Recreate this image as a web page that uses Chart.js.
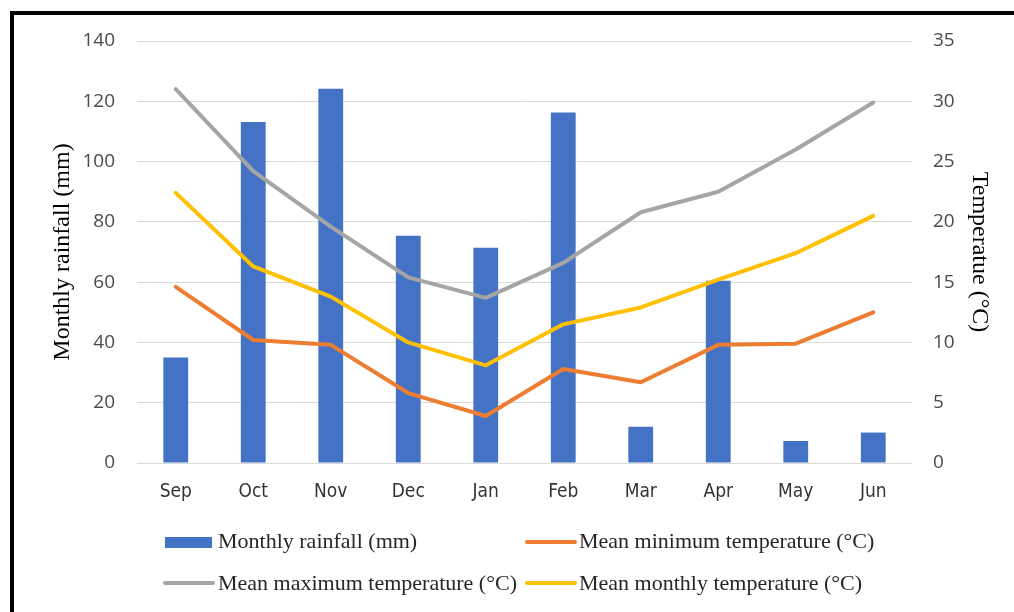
<!DOCTYPE html>
<html><head><meta charset="utf-8">
<script src="https://cdn.jsdelivr.net/npm/chart.js@4.4.1/dist/chart.umd.min.js"></script>
<style>
html,body{margin:0;padding:0;background:#fff;width:1014px;height:612px;overflow:hidden}
#wrap{position:relative;width:1014px;height:612px}
canvas{position:absolute;left:0;top:0}
#frame{position:absolute;left:10px;top:11px;width:1100px;height:700px;border-left:4px solid #000;border-top:4px solid #000;pointer-events:none}
.lg{position:absolute;font-family:'Liberation Serif','Times New Roman',serif;font-size:22px;color:#262626;white-space:nowrap;line-height:24px}
.sw{position:absolute}
</style></head>
<body><div id="wrap"><canvas id="c" width="1014" height="612"></canvas><div id="frame"></div><div id="legend"></div></div>
<script>
const months = ['Sep','Oct','Nov','Dec','Jan','Feb','Mar','Apr','May','Jun'];
const rainfall = [35.0,113.1,124.2,75.4,71.4,116.3,12.0,60.5,7.3,10.1];
const minTemp  = [14.6,10.2,9.8,5.8,3.9,7.8,6.7,9.8,9.9,12.5];
const maxTemp  = [31.0,24.2,19.6,15.4,13.7,16.6,20.8,22.5,26.0,29.9];
const meanTemp = [22.4,16.3,13.8,10.0,8.1,11.5,12.9,15.2,17.4,20.5];
const seriesLabels = ['Monthly rainfall (mm)','Mean minimum temperature (°C)','Mean maximum temperature (°C)','Mean monthly temperature (°C)'];
const rainAxisTitle = 'Monthly rainfall (mm)';
const tempAxisTitle = 'Temperatue (°C)';

const BLUE='#4472C4', ORANGE='#ED7D31', GRAY='#A5A5A5', YELLOW='#FFC000';
const tickFont = {family:"'Open Sans',sans-serif", size:19};
const xFont = {family:"'Liberation Sans Narrow','DejaVu Sans Condensed','Open Sans',sans-serif", size:19};
const titleFont = {family:"'Liberation Serif','Times New Roman',serif", size:24};

function lineDs(label, data, color, order){
  return {type:'line', label, data, borderColor:color, backgroundColor:color, borderWidth:4,
    pointRadius:0, pointHoverRadius:0, tension:0, yAxisID:'y1', order,
    borderCapStyle:'round', borderJoinStyle:'round', fill:false};
}

const chart = new Chart(document.getElementById('c'), {
  type:'bar',
  data:{
    labels: months,
    datasets:[
      {type:'bar', label:seriesLabels[0], data:rainfall, backgroundColor:BLUE, borderWidth:0,
       yAxisID:'y', order:4, barPercentage:0.32, categoryPercentage:1.0},
      lineDs(seriesLabels[1], minTemp, ORANGE, 3),
      lineDs(seriesLabels[2], maxTemp, GRAY, 2),
      lineDs(seriesLabels[3], meanTemp, YELLOW, 1)
    ]
  },
  options:{
    responsive:false, animation:false, devicePixelRatio:1,
    layout:{padding:{top:41,left:0,right:0,bottom:0}},
    plugins:{legend:{display:false}, tooltip:{enabled:false}},
    scales:{
      x:{
        grid:{display:false, drawTicks:false}, border:{display:false},
        ticks:{font:xFont, color:'#333333', padding:18},
        afterFit:(s)=>{s.height=149;}
      },
      y:{
        position:'left', min:0, max:140,
        ticks:{stepSize:20, font:tickFont, color:'#4a4a4a', padding:22},
        grid:{color:'#D9D9D9', lineWidth:1, drawTicks:false}, border:{display:false},
        title:{display:true, text:rainAxisTitle, font:titleFont, color:'#000', padding:{top:48,bottom:0}},
        afterFit:(s)=>{s.width=137;}
      },
      y1:{
        position:'right', min:0, max:35,
        ticks:{stepSize:5, font:tickFont, color:'#4a4a4a', padding:21},
        grid:{display:false, drawTicks:false}, border:{display:false},
        title:{display:true, text:tempAxisTitle, font:titleFont, color:'#000', padding:{top:20,bottom:0}},
        afterFit:(s)=>{s.width=102;}
      }
    }
  }
});

// HTML legend built from datasets
const legend = document.getElementById('legend');
const pos = [
  {sx:165, tx:218, row:0}, {sx:525, tx:579, row:0},
  {sx:163, tx:218, row:1}, {sx:525, tx:579, row:1}
];
const rowCenter=[542,583];
chart.data.datasets.forEach((ds,i)=>{
  const p = pos[i];
  const sw = document.createElement('div');
  sw.className='sw';
  if (ds.type==='bar'){
    sw.style.cssText=`left:${p.sx}px;top:${rowCenter[p.row]-5}px;width:47px;height:11px;background:${ds.backgroundColor}`;
  } else {
    sw.style.cssText=`left:${p.sx}px;top:${rowCenter[p.row]-2}px;width:52px;height:4px;border-radius:2px;background:${ds.borderColor}`;
  }
  legend.appendChild(sw);
  const t = document.createElement('div');
  t.className='lg';
  t.textContent = ds.label;
  t.style.left = p.tx+'px';
  t.style.top = (p.row===0?528.5:570.5)+'px';
  legend.appendChild(t);
});
</script>
</body></html>
